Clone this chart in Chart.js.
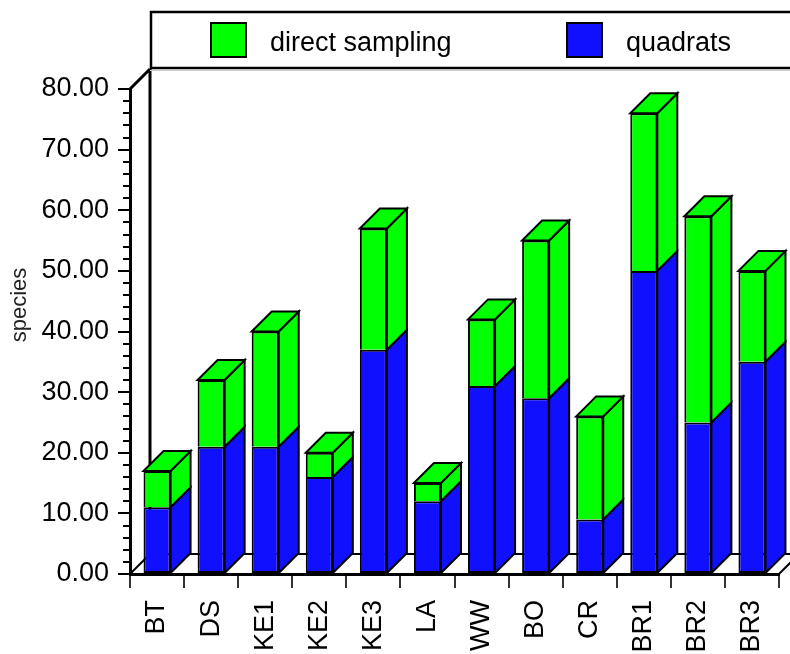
<!DOCTYPE html>
<html>
<head>
<meta charset="utf-8">
<script src="https://cdn.jsdelivr.net/npm/chart.js@4.4.1/dist/chart.umd.min.js"></script>
<style>
  body { margin: 0; background: #fff; }
  #wrap { width: 790px; height: 654px; }
</style>
</head>
<body>
<div id="wrap"><canvas id="speciesChart" width="790" height="654"></canvas></div>
<script>
// sites and species counts
const categories = ['BT', 'DS', 'KE1', 'KE2', 'KE3', 'LA', 'WW', 'BO', 'CR', 'BR1', 'BR2', 'BR3'];
const quadrats = [11, 21, 21, 16, 37, 12, 31, 29, 9, 50, 25, 35];
const directSampling = [6, 11, 19, 4, 20, 3, 11, 26, 17, 26, 34, 15];
const yMin = 0, yMax = 80, yStep = 10, yMinorStep = 2;

const GREEN = '#00ff00';
const BLUE = '#1010ff';
const DEPTH = 20; // 3d offset in px
const FONT = 'Arial, "Liberation Sans", sans-serif';

const bar3d = {
  id: 'bar3d',
  beforeDatasetsDraw(chart) {
    const { ctx } = chart;
    const { left, right, top, bottom } = chart.chartArea;
    ctx.save();
    ctx.strokeStyle = '#000';
    // floor
    ctx.beginPath();
    ctx.moveTo(left, bottom);
    ctx.lineTo(left + DEPTH, bottom - DEPTH);
    ctx.lineTo(right + DEPTH, bottom - DEPTH);
    ctx.lineTo(right, bottom);
    ctx.closePath();
    ctx.fillStyle = '#fff';
    ctx.fill();
    ctx.lineWidth = 2;
    ctx.stroke();
    // back wall edge
    ctx.lineWidth = 3;
    ctx.beginPath();
    ctx.moveTo(left + DEPTH, bottom - DEPTH);
    ctx.lineTo(left + DEPTH, top - DEPTH);
    ctx.moveTo(left, top);
    ctx.lineTo(left + DEPTH, top - DEPTH);
    ctx.stroke();
    ctx.restore();
  },
  afterDatasetsDraw(chart) {
    const { ctx } = chart;
    const sets = chart.data.datasets;
    ctx.save();
    ctx.strokeStyle = '#000';
    ctx.lineWidth = 2;
    sets.forEach((ds, di) => {
      const meta = chart.getDatasetMeta(di);
      meta.data.forEach((bar, i) => {
        const p = bar.getProps(['x', 'y', 'base', 'width'], true);
        const l = p.x - p.width / 2, r = p.x + p.width / 2;
        const t = Math.min(p.y, p.base), b = Math.max(p.y, p.base);
        if (b - t < 0.5) return;
        ctx.fillStyle = ds.backgroundColor;
        // side face
        ctx.beginPath();
        ctx.moveTo(r, b);
        ctx.lineTo(r + DEPTH, b - DEPTH);
        ctx.lineTo(r + DEPTH, t - DEPTH);
        ctx.lineTo(r, t);
        ctx.closePath();
        ctx.fill();
        ctx.stroke();
        // top face only on the highest segment
        let isTop = true;
        for (let k = di + 1; k < sets.length; k++) {
          if (sets[k].data[i] > 0) isTop = false;
        }
        if (isTop) {
          ctx.beginPath();
          ctx.moveTo(l, t);
          ctx.lineTo(l + DEPTH, t - DEPTH);
          ctx.lineTo(r + DEPTH, t - DEPTH);
          ctx.lineTo(r, t);
          ctx.closePath();
          ctx.fill();
          ctx.stroke();
        }
      });
    });
    ctx.restore();
  },
  afterDraw(chart) {
    const { ctx } = chart;
    const yScale = chart.scales.y;
    const left = chart.chartArea.left;
    ctx.save();
    // minor ticks on the value axis
    ctx.strokeStyle = '#000';
    ctx.lineWidth = 2;
    ctx.beginPath();
    for (let v = yMin; v <= yMax; v += yMinorStep) {
      if (v % yStep === 0) continue;
      const py = Math.round(yScale.getPixelForValue(v));
      ctx.moveTo(left - 7, py);
      ctx.lineTo(left, py);
    }
    ctx.stroke();

    // axis title
    ctx.save();
    ctx.translate(20, 305);
    ctx.rotate(-Math.PI / 2);
    ctx.font = '22px ' + FONT;
    ctx.fillStyle = '#222';
    ctx.textAlign = 'center';
    ctx.textBaseline = 'middle';
    ctx.fillText('species', 0, 0);
    ctx.restore();

    // legend frame
    ctx.strokeStyle = '#ccc';
    ctx.lineWidth = 1;
    ctx.beginPath();
    ctx.moveTo(150, 70.5);
    ctx.lineTo(790, 70.5);
    ctx.stroke();
    ctx.strokeStyle = '#000';
    ctx.lineWidth = 2.5;
    ctx.fillStyle = '#fff';
    ctx.fillRect(151, 12, 650, 56);
    ctx.strokeRect(151, 12, 650, 56);

    // legend items: top segment first
    const items = chart.data.datasets.slice().reverse();
    const legendX = [211, 567];
    ctx.font = '27px ' + FONT;
    ctx.textBaseline = 'alphabetic';
    items.forEach((ds, k) => {
      const x = legendX[k];
      ctx.fillStyle = ds.backgroundColor;
      ctx.fillRect(x, 23, 35, 34);
      ctx.lineWidth = 2;
      ctx.strokeRect(x, 23, 35, 34);
      ctx.fillStyle = '#000';
      ctx.fillText(ds.label, x + 59, 51);
    });
    ctx.restore();
  }
};

const speciesChart = new Chart(document.getElementById('speciesChart').getContext('2d'), {
  type: 'bar',
  data: {
    labels: categories,
    datasets: [
      {
        label: 'quadrats',
        data: quadrats,
        backgroundColor: BLUE,
        borderColor: '#000',
        borderWidth: 2,
        borderSkipped: false,
        barPercentage: 0.5,
        categoryPercentage: 1.0
      },
      {
        label: 'direct sampling',
        data: directSampling,
        backgroundColor: GREEN,
        borderColor: '#000',
        borderWidth: { top: 2, left: 2, right: 2, bottom: 0 },
        borderSkipped: false,
        barPercentage: 0.5,
        categoryPercentage: 1.0
      }
    ]
  },
  options: {
    responsive: false,
    animation: false,
    devicePixelRatio: 1,
    layout: { padding: { top: 89, right: 11, left: 0, bottom: 0 } },
    plugins: {
      legend: { display: false },
      tooltip: { enabled: false }
    },
    scales: {
      x: {
        stacked: true,
        grid: {
          display: true,
          drawOnChartArea: false,
          drawTicks: true,
          tickLength: 14,
          offset: true,
          color: '#333',
          lineWidth: 2
        },
        border: { display: true, color: '#000', width: 3 },
        ticks: {
          minRotation: 90,
          maxRotation: 90,
          autoSkip: false,
          padding: 12,
          color: '#000',
          font: { family: FONT, size: 27 }
        },
        afterFit(scale) {
          scale.height = 80;
          scale.paddingLeft = 0;
          scale.paddingRight = 0;
        }
      },
      y: {
        stacked: true,
        min: yMin,
        max: yMax,
        grid: {
          drawOnChartArea: false,
          drawTicks: true,
          tickLength: 12,
          color: '#000',
          lineWidth: 2
        },
        border: { display: true, color: '#000', width: 3 },
        ticks: {
          stepSize: yStep,
          padding: 9,
          color: '#000',
          font: { family: FONT, size: 27 },
          callback: function(value) {
            return Number(value).toFixed(2);
          }
        },
        afterFit(scale) {
          scale.width = 130;
          scale.paddingTop = 0;
          scale.paddingBottom = 0;
        }
      }
    }
  },
  plugins: [bar3d]
});
</script>
</body>
</html>
